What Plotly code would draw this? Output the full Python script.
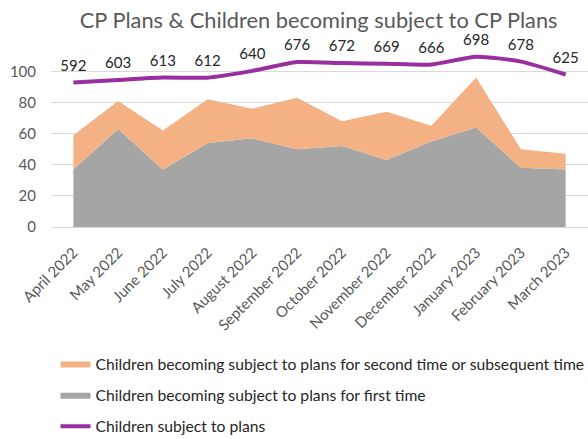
import plotly.graph_objects as go

months = ["April 2022", "May 2022", "June 2022", "July 2022", "August 2022",
          "September 2022", "October 2022", "November 2022", "December 2022",
          "January 2023", "February 2023", "March 2023"]
first_time = [37, 63, 37, 54, 57, 50, 52, 43, 55, 64, 38, 37]
second_time = [22, 18, 25, 28, 19, 33, 16, 31, 10, 32, 12, 10]
subject_to_plans = [592, 603, 613, 612, 640, 676, 672, 669, 666, 698, 678, 625]

FONT = "Lato"
GREY_TXT = "#595959"
y_max = 115
scale = 6.38

fig = go.Figure()
fig.add_trace(go.Scatter(
    x=months, y=first_time, name="Children becoming subject to plans for first time",
    mode="lines", stackgroup="one", line=dict(width=0, color="#A5A5A5"),
    fillcolor="#A5A5A5", legendrank=2, legendgroup="g2"))
fig.add_trace(go.Scatter(
    x=months, y=second_time,
    name="Children becoming subject to plans for second time or subsequent time",
    mode="lines", stackgroup="one", line=dict(width=0, color="#F4B183"),
    fillcolor="#F4B183", legendrank=1, legendgroup="g1"))
fig.add_trace(go.Scatter(
    x=months, y=subject_to_plans, name="Children subject to plans", yaxis="y2",
    mode="lines", line=dict(color="#992EA0", width=4, shape="spline", smoothing=0.6),
    legendrank=3, legendgroup="g3"))
fig.add_trace(go.Scatter(
    x=months, y=subject_to_plans, yaxis="y2", mode="markers+text", showlegend=False,
    marker=dict(size=11, color="rgba(0,0,0,0)"), text=[str(v) for v in subject_to_plans],
    textposition="top center", textfont=dict(family=FONT, size=15, color="#262626"),
    cliponaxis=False, hoverinfo="skip"))

fig.update_layout(
    width=588, height=439,
    margin=dict(l=50.5, r=0, t=48.45, b=212.3, autoexpand=False),
    paper_bgcolor="white", plot_bgcolor="white",
    title=dict(text="CP Plans & Children becoming subject to CP Plans",
               x=0.542, xref="container", xanchor="center",
               y=1 - 20.5 / 439, yref="container", yanchor="middle",
               font=dict(family=FONT, size=21.8, color=GREY_TXT)),
    xaxis=dict(range=[-0.5, 11.5], tickangle=-45, showgrid=False, automargin=False,
               showline=True, linecolor="#D9D9D9", linewidth=1, ticklabelstandoff=10,
               tickfont=dict(family=FONT, size=15, color=GREY_TXT)),
    yaxis=dict(range=[0, y_max], tickmode="array", tickvals=[0, 20, 40, 60, 80, 100],
               showgrid=True, gridcolor="#D9D9D9", gridwidth=1, zeroline=False,
               ticklabelstandoff=14, automargin=False,
               tickfont=dict(family=FONT, size=15, color=GREY_TXT)),
    yaxis2=dict(range=[0, y_max * scale], overlaying="y", side="right", visible=False,
                automargin=False),
    legend=dict(orientation="v", x=0.0084, xanchor="left", y=-0.669, yanchor="top",
                yref="paper", tracegroupgap=8,
                font=dict(family=FONT, size=15.7, color="#262626")),
    showlegend=True,
)

fig.write_html("out.html", config={"displayModeBar": False},
               post_script="document.body.style.margin='0';")
